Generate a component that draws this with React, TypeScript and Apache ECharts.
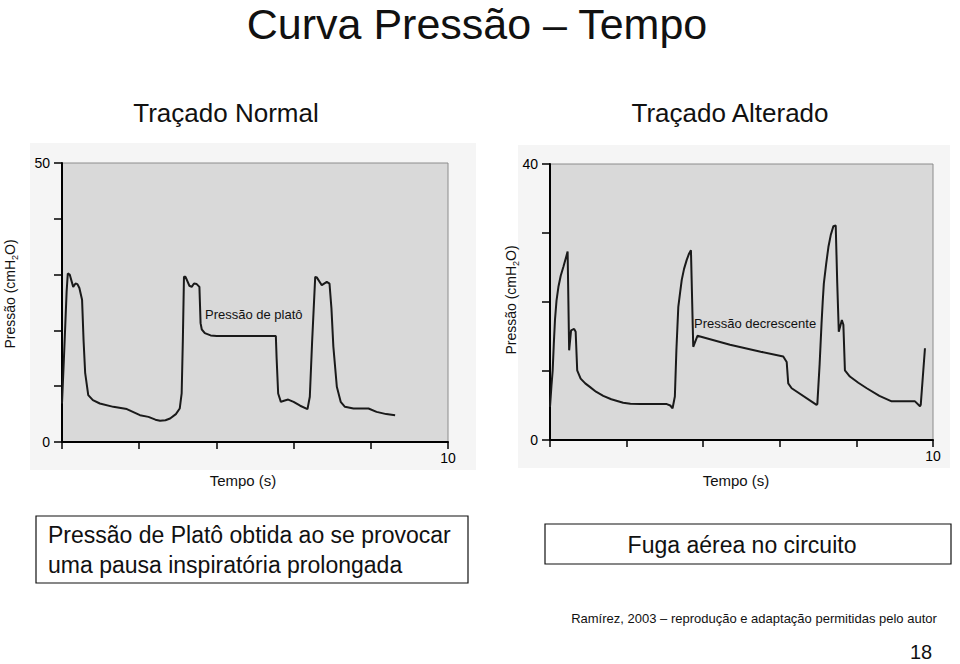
import React, { useEffect, useRef } from "react";
import * as echarts from "echarts";

// ---- Data ----
const normalTime = [0.0, 0.05, 0.12, 0.15, 0.2, 0.29, 0.35, 0.4, 0.45, 0.52, 0.56, 0.6, 0.68, 0.8, 0.98, 1.33, 1.68, 2.02, 2.24, 2.42, 2.54, 2.68, 2.8, 2.95, 3.05, 3.1, 3.13, 3.16, 3.2, 3.3, 3.36, 3.42, 3.49, 3.56, 3.59, 3.62, 3.7, 3.85, 4.01, 5.54, 5.56, 5.6, 5.67, 5.75, 5.86, 6.0, 6.17, 6.36, 6.42, 6.48, 6.56, 6.6, 6.73, 6.86, 6.93, 6.98, 7.03, 7.12, 7.22, 7.33, 7.55, 7.94, 8.15, 8.4, 8.63];
const normalPressure = [6.9, 15, 27, 30.2, 30.0, 27.8, 28.4, 28.3, 27.6, 25.5, 18, 12.4, 8.4, 7.5, 6.9, 6.3, 5.9, 4.8, 4.5, 4.0, 3.8, 3.9, 4.2, 5.0, 6.0, 8.7, 18, 29.6, 29.6, 28.0, 27.8, 28.4, 28.3, 27.8, 21.3, 20.2, 19.5, 19.1, 19.0, 19.0, 15, 8.7, 7.2, 7.4, 7.6, 7.2, 6.5, 5.9, 8.1, 18, 29.6, 29.5, 28.1, 28.7, 28.4, 24, 17.1, 9.9, 7.2, 6.3, 6.0, 6.0, 5.4, 5.0, 4.8];

const alteredTime = [0.0, 0.04, 0.07, 0.1, 0.13, 0.17, 0.22, 0.28, 0.35, 0.41, 0.46, 0.5, 0.55, 0.63, 0.67, 0.71, 0.8, 0.92, 1.04, 1.2, 1.39, 1.6, 1.91, 2.1, 2.35, 3.05, 3.14, 3.2, 3.26, 3.3, 3.35, 3.4, 3.44, 3.5, 3.57, 3.63, 3.68, 3.74, 3.85, 3.92, 4.7, 5.5, 6.09, 6.18, 6.22, 6.31, 6.96, 6.98, 7.04, 7.09, 7.12, 7.15, 7.21, 7.27, 7.33, 7.4, 7.46, 7.5, 7.54, 7.62, 7.66, 7.7, 7.83, 8.05, 8.27, 8.6, 8.92, 9.53, 9.66, 9.68, 9.79];
const alteredPressure = [4.8, 8.0, 10.1, 14.0, 17.4, 20.2, 22.2, 23.8, 25.1, 26.3, 27.3, 13.0, 15.9, 16.1, 15.7, 10.1, 8.9, 8.2, 7.7, 7.0, 6.4, 5.9, 5.4, 5.25, 5.2, 5.2, 5.0, 4.6, 6.3, 13.0, 19.3, 21.5, 23.2, 24.8, 26.1, 27.0, 27.5, 13.5, 15.1, 15.0, 13.8, 12.8, 12.1, 11.3, 8.2, 7.5, 5.1, 5.2, 11.0, 16.9, 20.0, 22.7, 25.5, 28.0, 29.7, 31.0, 31.1, 22.7, 15.7, 17.4, 16.7, 10.1, 9.2, 8.3, 7.5, 6.4, 5.6, 5.6, 4.9, 5.1, 13.3];

const timeRange = [0, 10];
const timeInterval = 2;
const normalYMax = 50;
const alteredYMax = 40;
const yInterval = 10;

const FONT = "'Liberation Sans', Arial, Helvetica, sans-serif";

function pairs(xs: number[], ys: number[]) {
  return xs.map((x, i) => [x, ys[i]]);
}

export default function App() {
  const ref = useRef<HTMLDivElement>(null);

  useEffect(() => {
    if (!ref.current) return;
    const chart = echarts.init(ref.current, null, { renderer: "svg" });

    const xAxisBase = (gridIndex: number) => ({
      type: "value",
      gridIndex,
      min: timeRange[0],
      max: timeRange[1],
      interval: timeInterval,
      splitLine: { show: false },
      axisLine: { show: true, onZero: false, lineStyle: { color: "#000", width: 2 } },
      axisTick: { show: true, inside: false, length: 7, lineStyle: { color: "#000", width: 1.5 } },
      axisLabel: {
        margin: 9,
        fontFamily: FONT,
        fontSize: 14,
        color: "#000",
        formatter: (v: number) => (v === timeRange[1] ? String(v) : ""),
      },
    });
    const yAxisBase = (gridIndex: number, max: number) => ({
      type: "value",
      gridIndex,
      min: 0,
      max,
      interval: yInterval,
      splitLine: { show: false },
      axisLine: { show: true, onZero: false, lineStyle: { color: "#000", width: 2 } },
      axisTick: { show: true, inside: false, length: 8, lineStyle: { color: "#000", width: 1.5 } },
      axisLabel: {
        margin: 12,
        fontFamily: FONT,
        fontSize: 14,
        color: "#000",
        formatter: (v: number) => (v === 0 || v === max ? String(v) : ""),
      },
    });

    const yName = (x: number, y: number) => ({
      type: "text",
      x,
      y,
      z: 100,
      rotation: Math.PI / 2,
      style: {
        text: "{a|Pressão (cmH}{s|2}{a|O)}",
        align: "center",
        verticalAlign: "middle",
        fill: "#111",
        rich: {
          a: { fontFamily: FONT, fontSize: 14, lineHeight: 18, fill: "#111" },
          s: { fontFamily: FONT, fontSize: 9, lineHeight: 9, verticalAlign: "bottom", fill: "#111" },
        },
      },
    });

    const txt = (text: string, x: number, y: number, size: number, align = "center", lh?: number) => ({
      type: "text",
      x,
      y,
      z: 100,
      style: {
        text,
        fontFamily: FONT,
        fontSize: size,
        lineHeight: lh ?? Math.round(size * 1.15),
        fill: "#111",
        align,
        verticalAlign: "middle",
      },
    });

    chart.setOption({
      animation: false,
      backgroundColor: "#ffffff",
      grid: [
        { left: 62, top: 163, width: 386, height: 279, show: true, backgroundColor: "#d9d9d9", borderColor: "#8c8c8c", borderWidth: 1 },
        { left: 550, top: 164, width: 383, height: 276, show: true, backgroundColor: "#d9d9d9", borderColor: "#8c8c8c", borderWidth: 1 },
      ],
      xAxis: [xAxisBase(0), xAxisBase(1)],
      yAxis: [yAxisBase(0, normalYMax), yAxisBase(1, alteredYMax)],
      series: [
        {
          type: "line",
          xAxisIndex: 0,
          yAxisIndex: 0,
          data: pairs(normalTime, normalPressure),
          showSymbol: false,
          lineStyle: { color: "#1a1a1a", width: 2 },
          z: 5,
        },
        {
          type: "line",
          xAxisIndex: 1,
          yAxisIndex: 1,
          data: pairs(alteredTime, alteredPressure),
          showSymbol: false,
          lineStyle: { color: "#1a1a1a", width: 2 },
          z: 5,
        },
      ],
      graphic: [
        { type: "rect", z: -10, silent: true, shape: { x: 30, y: 143, width: 446, height: 327 }, style: { fill: "#f5f5f5" } },
        { type: "rect", z: -10, silent: true, shape: { x: 518, y: 145, width: 432, height: 323 }, style: { fill: "#f5f5f5" } },
        txt("Curva Pressão – Tempo", 477, 24, 43, "center", 44),
        txt("Traçado Normal", 226, 113, 26),
        txt("Traçado Alterado", 730, 113, 26),
        yName(10, 294),
        yName(511, 300),
        txt("Pressão de platô", 205, 314, 13, "left"),
        txt("Pressão decrescente", 694, 323, 13, "left"),
        txt("Tempo (s)", 243, 480, 15),
        txt("Tempo (s)", 736, 480, 15),
        { type: "rect", z: 100, shape: { x: 36, y: 516, width: 432, height: 67 }, style: { fill: "none", stroke: "#111", lineWidth: 1.2 } },
        {
          type: "text",
          x: 48,
          y: 550,
          z: 100,
          style: {
            text: "Pressão de Platô obtida ao se provocar\numa pausa inspiratória prolongada",
            fontFamily: FONT,
            fontSize: 23,
            lineHeight: 30,
            fill: "#111",
            align: "left",
            verticalAlign: "middle",
          },
        },
        { type: "rect", z: 100, shape: { x: 545, y: 524, width: 406, height: 40 }, style: { fill: "none", stroke: "#111", lineWidth: 1.2 } },
        txt("Fuga aérea no circuito", 742, 545, 23),
        txt("Ramírez, 2003 – reprodução e adaptação permitidas pelo autor", 754, 618, 13),
        txt("18", 921, 652, 20, "center", 20),
      ],
    });

    return () => chart.dispose();
  }, []);

  return (
    <div
      ref={ref}
      style={{ position: "fixed", left: 0, top: 0, width: 960, height: 664, background: "#fff" }}
    />
  );
}
